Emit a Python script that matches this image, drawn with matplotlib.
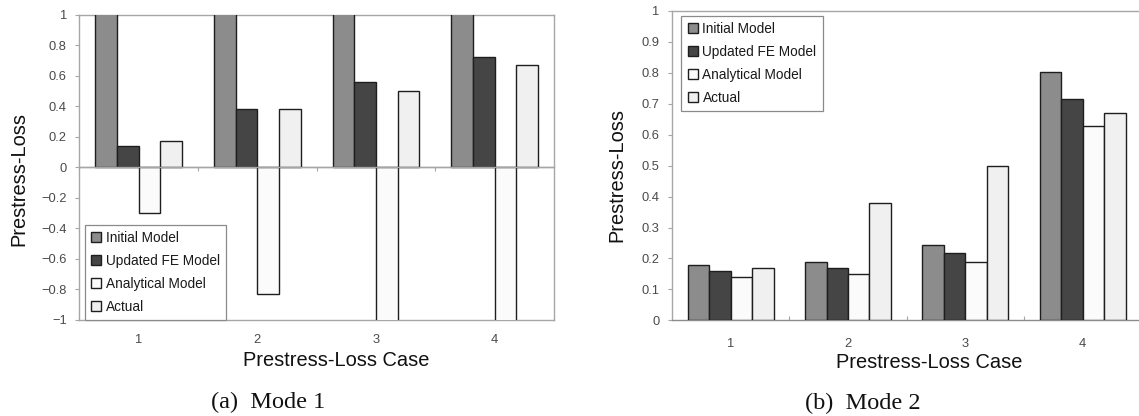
import numpy as np
import matplotlib
matplotlib.use("Agg")
import matplotlib.pyplot as plt
from matplotlib.ticker import FuncFormatter

# ---------------- data ----------------
cases = ["1", "2", "3", "4"]
series_names = ["Initial Model", "Updated FE Model", "Analytical Model", "Actual"]

# Mode 1 (Initial Model exceeds the axis top, Analytical 3/4 fall below -1)
mode1_initial = [1.6, 1.6, 1.6, 1.6]
mode1_updated = [0.14, 0.38, 0.56, 0.72]
mode1_analytical = [-0.30, -0.83, -1.5, -1.5]
mode1_actual = [0.17, 0.38, 0.50, 0.67]

# Mode 2
mode2_initial = [0.179, 0.190, 0.243, 0.804]
mode2_updated = [0.158, 0.169, 0.218, 0.715]
mode2_analytical = [0.140, 0.149, 0.190, 0.628]
mode2_actual = [0.170, 0.38, 0.50, 0.670]

mode1_ticks = [-1, -0.8, -0.6, -0.4, -0.2, 0, 0.2, 0.4, 0.6, 0.8, 1]
mode2_ticks = [0, 0.1, 0.2, 0.3, 0.4, 0.5, 0.6, 0.7, 0.8, 0.9, 1]

# ---------------- style ----------------
colors = ["#8c8c8c", "#454545", "#fbfbfb", "#f0f0f0"]
edge = "#1e1e1e"
spine_c = "#a6a6a6"
tick_c = "#4a4a4a"
sans = ["Liberation Sans", "DejaVu Sans"]
serif = ["Liberation Serif", "DejaVu Serif"]
plt.rcParams["font.family"] = sans
plt.rcParams["axes.unicode_minus"] = True

W, H = 1139, 416
fig = plt.figure(figsize=(W / 100, H / 100), dpi=100)


def px_axes(x0, y0, x1, y1):
    return fig.add_axes([x0 / W, 1 - y1 / H, (x1 - x0) / W, (y1 - y0) / H])


def fmt(v, pos):
    s = f"{v:g}"
    return s.replace("-", "\u2212")


width = 0.183
x = np.arange(len(cases))


def draw_bars(ax, data):
    handles = []
    for i, (vals, c, name) in enumerate(zip(data, colors, series_names)):
        b = ax.bar(x + (i - 1.5) * width, vals, width, color=c, edgecolor=edge,
                   linewidth=1.0, label=name, zorder=3)
        handles.append(b)
    return handles


def style_common(ax, ticks):
    ax.set_xlim(-0.5, 3.5)
    ax.set_yticks(ticks)
    ax.yaxis.set_major_formatter(FuncFormatter(fmt))
    ax.tick_params(axis="y", direction="out", length=3, width=0.8, colors=spine_c,
                   labelcolor=tick_c, labelsize=9.3, pad=6)
    for s in ax.spines.values():
        s.set_color(spine_c)
        s.set_linewidth(1.0)


def add_legend(ax, loc, anchor):
    leg = ax.legend(loc=loc, bbox_to_anchor=anchor, fontsize=9.8, frameon=True,
                    fancybox=False, framealpha=1, edgecolor="#8a8a8a",
                    handlelength=0.75, handleheight=0.75, handletextpad=0.35,
                    labelspacing=0.66, borderpad=0.45, borderaxespad=0.0)
    leg.get_frame().set_linewidth(0.9)
    leg.set_zorder(5)
    for t in leg.get_texts():
        t.set_color("#1a1a1a")
    return leg


# ---------------- Mode 1 ----------------
ax1 = px_axes(79.3, 14.7, 554, 320)
draw_bars(ax1, [mode1_initial, mode1_updated, mode1_analytical, mode1_actual])
ax1.set_ylim(-1, 1)
style_common(ax1, mode1_ticks)
ax1.set_xticks(x)
ax1.set_xticklabels(cases)
ax1.tick_params(axis="x", length=0, labelsize=9.3, labelcolor=tick_c, pad=10)
ax1.axhline(0, color=spine_c, linewidth=1.0, zorder=4)
sec1 = ax1.secondary_xaxis(0.5)
sec1.set_xticks(x[:-1] + 0.5)
sec1.set_xticklabels([])
sec1.tick_params(axis="x", direction="in", length=3, width=0.8, colors=spine_c)
for s in sec1.spines.values():
    s.set_color(spine_c)
    s.set_linewidth(1.0)
add_legend(ax1, "lower left", (0.011, 0.0))

# ---------------- Mode 2 ----------------
ax2 = px_axes(672, 11, 1141.3, 320.3)
draw_bars(ax2, [mode2_initial, mode2_updated, mode2_analytical, mode2_actual])
ax2.set_ylim(0, 1)
style_common(ax2, mode2_ticks)
ax2.set_xticks(x)
ax2.set_xticklabels(cases)
ax2.set_xticks(x[:-1] + 0.5, minor=True)
ax2.tick_params(axis="x", which="major", length=0, labelsize=9.3, labelcolor=tick_c, pad=13)
ax2.tick_params(axis="x", which="minor", direction="in", length=3, width=0.8, colors=spine_c)
ax2.spines["bottom"].set_color("#8c8c8c")
add_legend(ax2, "upper left", (0.02, 0.984))

# ---------------- labels ----------------
lab = 14.4
fig.text(19 / W, 1 - 179 / H, "Prestress-Loss", rotation=90, ha="center", va="center",
         fontsize=lab, color="#111111")
fig.text(617 / W, 1 - 175 / H, "Prestress-Loss", rotation=90, ha="center", va="center",
         fontsize=lab, color="#111111")
fig.text(336 / W, 1 - 360 / H, "Prestress-Loss Case", ha="center", va="center",
         fontsize=lab, color="#111111")
fig.text(929 / W, 1 - 363 / H, "Prestress-Loss Case", ha="center", va="center",
         fontsize=lab, color="#111111")
fig.text(268 / W, 1 - 402 / H, "(a)  Mode 1", ha="center", va="center",
         fontsize=17.5, family=serif, color="#111111")
fig.text(862.5 / W, 1 - 403 / H, "(b)  Mode 2", ha="center", va="center",
         fontsize=17.5, family=serif, color="#111111")

fig.savefig("out.png", dpi=100)
